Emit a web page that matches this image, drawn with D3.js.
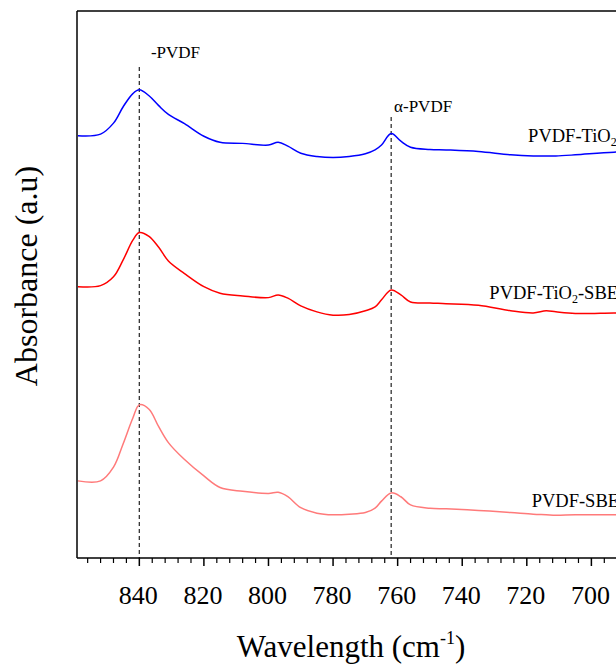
<!DOCTYPE html>
<html>
<head>
<meta charset="utf-8">
<script src="https://cdn.jsdelivr.net/npm/d3@7"></script>
<style>
  html, body { margin: 0; padding: 0; background: #fff; overflow: hidden; }
  svg { display: block; }
  text { font-family: "Liberation Serif", "Times New Roman", serif; fill: #000; }
</style>
</head>
<body>
<script>
// ---- data (wavenumber in cm-1, absorbance in arbitrary stacked units) ----
const wavenumbers = [859, 852, 848, 845, 842, 840, 837, 834, 831, 826, 820, 815, 808, 800, 797, 794, 790, 785, 780, 775, 770, 767, 765, 762, 759, 756, 750, 745, 735, 725, 718, 714, 711, 705, 693, 680];
const absTiO2 = [77.2, 77.5, 79.5, 82.5, 84.9, 85.6, 84.5, 82.7, 81.1, 79.4, 77.1, 76.0, 75.8, 75.5, 76.0, 75.3, 74.0, 73.4, 73.2, 73.4, 73.9, 74.6, 75.5, 77.6, 76.2, 75.1, 74.7, 74.6, 74.3, 73.7, 73.5, 73.5, 73.5, 73.7, 74.2, 74.4];
const absTiO2SBE = [49.6, 49.8, 51.4, 54.5, 58.1, 59.5, 58.8, 56.8, 54.3, 52.0, 49.6, 48.4, 47.9, 47.6, 48.1, 47.5, 46.1, 45.0, 44.4, 44.5, 45.2, 45.9, 47.2, 49.0, 48.1, 46.8, 46.6, 46.5, 46.2, 45.2, 44.8, 45.2, 45.0, 44.7, 44.8, 44.9];
const absSBE = [14.1, 14.1, 16.6, 20.9, 25.6, 28.0, 27.2, 24.0, 21.1, 18.0, 15.0, 12.9, 12.2, 11.8, 12.0, 11.2, 9.2, 8.2, 7.9, 8.0, 8.3, 9.1, 10.4, 11.9, 11.2, 9.7, 9.1, 9.0, 8.7, 8.3, 8.0, 7.9, 7.8, 7.9, 7.9, 7.9];
const seriesNames = ["PVDF-TiO2", "PVDF-TiO2-SBE", "PVDF-SBE"];
const peakPositions = [840, 762];
const peakLabels = ["-PVDF", "α-PVDF"];
const xTicks = [840, 820, 800, 780, 760, 740, 720, 700];
const xTitle = "Wavelength (cm";
const yTitle = "Absorbance (a.u)";

// ---- layout ----
const W = 616, H = 666;
const mLeft = 77, mTop = 11, mBottom = 558, mRight = 655;
const svg = d3.select("body").append("svg").attr("width", W).attr("height", H);

const x = d3.scaleLinear().domain([859.3, 680.3]).range([mLeft, mRight]);
const y = d3.scaleLinear().domain([0, 100]).range([mBottom, mTop]);

svg.append("defs").append("clipPath").attr("id", "clip")
  .append("rect").attr("x", mLeft).attr("y", mTop).attr("width", mRight - mLeft).attr("height", mBottom - mTop);

// peak dashed lines
const peakTops = [67, 117];
peakPositions.forEach((p, i) => {
  svg.append("line")
    .attr("x1", x(p)).attr("x2", x(p))
    .attr("y1", peakTops[i]).attr("y2", mBottom)
    .attr("stroke", "#333").attr("stroke-width", 1.3)
    .attr("stroke-dasharray", "4,3");
});

// curves
const series = [
  { name: seriesNames[0], values: absTiO2, color: "#0000ff" },
  { name: seriesNames[1], values: absTiO2SBE, color: "#ff0000" },
  { name: seriesNames[2], values: absSBE, color: "#ff7a7a" }
];
const line = d3.line()
  .x((d, i) => x(wavenumbers[i]))
  .y(d => y(d))
  .curve(d3.curveCatmullRom.alpha(0.5));
const g = svg.append("g").attr("clip-path", "url(#clip)");
series.forEach(s => {
  g.append("path").datum(s.values)
    .attr("d", line)
    .attr("fill", "none")
    .attr("stroke", s.color)
    .attr("stroke-width", 1.5);
});

// frame
svg.append("line").attr("x1", mLeft).attr("x2", mLeft).attr("y1", mTop).attr("y2", mBottom)
  .attr("stroke", "#000").attr("stroke-width", 1.5);
svg.append("line").attr("x1", mLeft).attr("x2", W + 10).attr("y1", mTop).attr("y2", mTop)
  .attr("stroke", "#000").attr("stroke-width", 1.5);

// x axis
const minorTicks = d3.range(856, 680, -4).filter(v => v % 20 !== 0);
const xAxis = svg.append("g").attr("transform", `translate(0,${mBottom})`);
xAxis.append("line").attr("x1", mLeft).attr("x2", W + 10).attr("y1", 0).attr("y2", 0)
  .attr("stroke", "#000").attr("stroke-width", 1.5);
xAxis.selectAll(".minor").data(minorTicks).enter().append("line")
  .attr("x1", d => x(d)).attr("x2", d => x(d)).attr("y1", 0).attr("y2", 5)
  .attr("stroke", "#000").attr("stroke-width", 1.2);
xAxis.selectAll(".major").data(xTicks).enter().append("line")
  .attr("x1", d => x(d)).attr("x2", d => x(d)).attr("y1", 0).attr("y2", 8)
  .attr("stroke", "#000").attr("stroke-width", 1.5);
xAxis.selectAll(".lbl").data(xTicks).enter().append("text")
  .attr("x", d => x(d) - 1).attr("y", 46)
  .attr("text-anchor", "middle").attr("font-size", 26)
  .text(d => d);

// axis titles
const xt = svg.append("text").attr("x", 351).attr("y", 657)
  .attr("text-anchor", "middle").attr("font-size", 31);
xt.append("tspan").text(xTitle);
xt.append("tspan").attr("font-size", 18).attr("dy", -13).text("-1");
xt.append("tspan").attr("dy", 13).text(")");

svg.append("text")
  .attr("transform", "translate(37,276) rotate(-90)")
  .attr("text-anchor", "middle").attr("font-size", 32)
  .text(yTitle);

// peak labels
svg.append("text").attr("x", x(836.4)).attr("y", 58).attr("font-size", 17).text(peakLabels[0]);
svg.append("text").attr("x", x(761.1)).attr("y", 112).attr("font-size", 17).text(peakLabels[1]);

// series labels with subscript 2
function seriesLabel(name, wn, yy) {
  const t = svg.append("text").attr("x", x(wn)).attr("y", yy).attr("font-size", 18.5);
  const parts = name.split("2");
  parts.forEach((p, i) => {
    if (i > 0) {
      t.append("tspan").attr("font-size", 12).attr("dy", 4).text("2");
      t.append("tspan").attr("dy", -4).text(p);
    } else {
      t.append("tspan").text(p);
    }
  });
}
seriesLabel(seriesNames[0], 719.6, 142);
seriesLabel(seriesNames[1], 731.6, 299);
seriesLabel(seriesNames[2], 718.5, 507);
</script>
</body>
</html>
